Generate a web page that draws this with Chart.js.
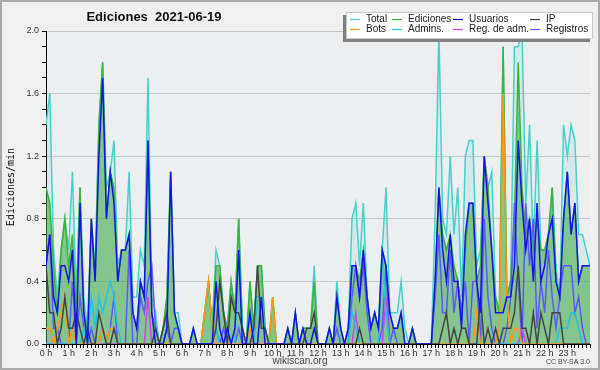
<!DOCTYPE html>
<html>
<head>
<meta charset="utf-8">
<script src="https://cdn.jsdelivr.net/npm/chart.js@4/dist/chart.umd.min.js"></script>
<style>
  html, body { margin: 0; padding: 0; background: #f0f0f0; }
  #wrap { width: 600px; height: 370px; position: relative; }
</style>
</head>
<body>
<div id="wrap"><canvas id="edChart" width="600" height="370"></canvas></div>
<script>
// edits per minute, one value per 10 minutes (00:00 .. 24:00)
const hours = ['0 h','1 h','2 h','3 h','4 h','5 h','6 h','7 h','8 h','9 h','10 h','11 h',
               '12 h','13 h','14 h','15 h','16 h','17 h','18 h','19 h','20 h','21 h','22 h','23 h'];
const yLabels = ['0.0','0.4','0.8','1.2','1.6','2.0'];

const total = [1.4,1.6,0.6,0.3,0.6,0.8,0.6,1.1,0.3,1.0,0.3,0.1,
  0.8,0.5,1.4,1.8,1.0,1.1,1.3,0.5,0.6,0.6,1.1,0.3,
  0.3,0.6,0.5,1.7,0.3,0.2,0,0.1,0.3,1.1,0.2,0.2,
  0,0,0,0.1,0,0,0.2,0.4,0.1,0.6,0.5,0.2,
  0.1,0.4,0.2,0.8,0.1,0,0.4,0.1,0.5,0.5,0.1,0,
  0.3,0,0,0,0.1,0,0.2,0,0.1,0.1,0.1,0.5,
  0,0,0,0.1,0,0.4,0.1,0,0.1,0.8,0.9,0.5,
  0.9,0.3,0.1,0.2,0.1,0.6,1.0,0.2,0.2,0.2,0.4,0.1,
  0,0.1,0,0,0,0,0,0.8,2.0,0.8,0.7,1.2,
  0.7,1.0,0.3,1.2,1.3,1.3,0.5,0.6,1.2,1.0,1.1,0.3,
  0.2,1.9,0.3,0.4,1.9,1.9,2.0,0.9,1.4,0.6,1.3,0.6,
  0.6,0.7,1.0,0.5,0.3,1.4,1.2,1.4,1.3,0.7,0.7,0.6,
  0.5];

const ediciones = [1.0,0.9,0.5,0.2,0.6,0.8,0.5,0.7,0.2,1.0,0.2,0.1,
  0.8,0.4,1.4,1.8,0.8,1.1,1.0,0.4,0.6,0.6,0.7,0.2,
  0.1,0.4,0.3,1.3,0.2,0.1,0,0.1,0.3,1.1,0.2,0.1,
  0,0,0,0.1,0,0,0.2,0.4,0.1,0.5,0.5,0.2,
  0.1,0.4,0.2,0.8,0.1,0,0.4,0.1,0.5,0.5,0.1,0,
  0.3,0,0,0,0.1,0,0.2,0,0.1,0.1,0.1,0.4,
  0,0,0,0.1,0,0.3,0.1,0,0.1,0.5,0.5,0.4,
  0.6,0.3,0.1,0.2,0.1,0.6,0.5,0.2,0.1,0.1,0.2,0,
  0,0.1,0,0,0,0,0,0.4,1.0,0.7,0.6,0.7,
  0.5,0.4,0.2,0.6,0.9,0.9,0.4,0.5,1.2,1.0,0.6,0.3,
  0.2,1.9,0.3,0.4,0.8,1.8,1.0,0.7,0.8,0.6,0.8,0.6,
  0.6,0.7,1.0,0.4,0.3,0.8,1.1,0.7,0.9,0.4,0.5,0.5,
  0.5];

const usuarios = [0.5,0.7,0.3,0.2,0.5,0.5,0.4,0.6,0,0.9,0.2,0,
  0.8,0.4,1.2,1.7,0.8,1.1,0.9,0.4,0.6,0.6,0.7,0.2,
  0.1,0.4,0.3,1.3,0.2,0,0,0,0.1,1.1,0.2,0.1,
  0,0,0,0.1,0,0,0,0,0,0.4,0.1,0,
  0.1,0,0.1,0.6,0,0,0.2,0,0,0.3,0,0,
  0,0,0,0,0.1,0,0.2,0,0.1,0,0,0.1,
  0,0,0,0.1,0,0.3,0.1,0,0.1,0.5,0.5,0.3,
  0.6,0.3,0.1,0.2,0.1,0.6,0.5,0.2,0.1,0.1,0.2,0,
  0,0.1,0,0,0,0,0,0.4,1.0,0.6,0.4,0.7,
  0.4,0.4,0.1,0.7,0.9,0.9,0.4,0.2,1.2,0.9,0.6,0.2,
  0.2,0.2,0.3,0.3,0.5,1.3,0.9,0.6,0.8,0.4,0.9,0.4,
  0.5,0.7,0.8,0.4,0.3,0.8,1.1,0.7,0.9,0.4,0.5,0.5,
  0.5];

const ip = [0.5,0.2,0.2,0,0.1,0.3,0.1,0.1,0.2,0.1,0,0.1,
  0,0,0.2,0.1,0,0,0.1,0,0,0,0,0,
  0,0,0,0,0,0.1,0,0.1,0.2,0,0,0,
  0,0,0,0,0,0,0,0,0,0.1,0.4,0.2,
  0,0.3,0.2,0.2,0.1,0,0,0.1,0.5,0.1,0.1,0,
  0,0,0,0,0,0,0,0,0,0.1,0.1,0.2,
  0,0,0,0,0,0,0,0,0,0,0,0.1,
  0,0,0,0,0,0,0,0,0,0,0,0,
  0,0,0,0,0,0,0,0,0,0.1,0.2,0,
  0.1,0,0.1,0.1,0,0,0,0.3,0,0.1,0,0.1,
  0,0.1,0.1,0.1,0.2,0.5,0.1,0.1,0,0.2,0,0.2,
  0.1,0,0.2,0.2,0.2,0,0,0,0,0,0,0,
  0];

const bots = [0.1,0.1,0,0.1,0.2,0.3,0,0.1,0,0,0,0,
  0,0,0,0.1,0,0.1,0.1,0,0,0,0,0,
  0,0,0,0,0,0,0,0,0,0,0,0,
  0,0,0,0,0,0,0.2,0.4,0.1,0,0,0,
  0,0,0,0,0,0,0.1,0,0,0,0,0,
  0.3,0,0,0,0,0,0,0,0,0,0,0,
  0,0,0,0,0,0,0,0,0,0,0,0,
  0,0,0,0,0,0,0,0,0,0,0,0,
  0,0,0,0,0,0,0,0,0,0,0,0,
  0,0,0,0,0,0,0.2,0,0,0,0,0,
  0.1,1.6,0.3,0,0.1,0.1,0,0,0,0,0,0,
  0,0,0,0,0,0,0,0,0,0,0,0,
  0];

const admins = [0,0,0,0,0,0,0,0,0,0,0.1,0,
  0.3,0.1,0.3,0.2,0.3,0.4,0.3,0.1,0,0,0,0,
  0,0,0,0,0,0,0,0,0,0,0,0,
  0,0,0,0,0,0,0,0,0,0.1,0,0,
  0.1,0,0,0.6,0.1,0,0.2,0,0.3,0.3,0.1,0,
  0,0,0,0,0,0,0,0,0,0,0,0,
  0,0,0,0,0,0,0,0,0,0.2,0.1,0,
  0,0,0,0,0,0.6,0.2,0,0,0,0,0,
  0,0,0,0,0,0,0,0,0,0,0,0,
  0,0,0,0,0,0,0,0,0,0,0,0,
  0,0,0,0,0,0,0,0,0,0,0,0,
  0,0,0,0,0.1,0.1,0.1,0.2,0.2,0.1,0,0,
  0];

const regAdm = [0,0,0,0,0,0,0,0,0,0,0,0,
  0,0,0,0,0,0,0,0,0,0,0,0,
  0,0,0,0.3,0,0,0,0,0,0,0,0,
  0,0,0,0,0,0,0,0,0,0,0,0,
  0,0,0,0,0,0,0,0,0,0,0,0,
  0,0,0,0,0,0,0,0,0,0,0,0,
  0,0,0,0,0,0,0,0,0,0,0.2,0,
  0,0,0,0,0,0,0.3,0,0,0,0,0,
  0,0,0,0,0,0,0,0,0,0,0,0,
  0,0,0,0,0,0,0,0,0,0,0,0,
  0,0,0,0,0,0,0.1,0,0,0,0,0,
  0,0,0,0,0,0,0,0,0,0,0,0,
  0];

const registros = [0.5,0.7,0.1,0.1,0,0,0,0.4,0,0.3,0.1,0,
  0.1,0,0,0.1,0,0.1,0.3,0,0,0,0.6,0,
  0,0.3,0.2,0.4,0.5,0.1,0,0,0.1,0,0.1,0.1,
  0,0,0,0,0,0,0,0,0,0.1,0,0.1,
  0,0,0,0.1,0,0,0,0,0,0,0,0,
  0,0,0,0,0,0,0,0,0,0,0,0,
  0,0,0,0,0,0.1,0,0,0,0.3,0.5,0.3,
  0.5,0.2,0,0,0,0.1,0.5,0,0.1,0,0,0,
  0,0,0,0,0,0,0,0.3,0.7,0.2,0.2,0.6,
  0.2,0.4,0.2,0.4,0,0.4,0.4,0,0.8,0.3,0.1,0,
  0,0,0.1,0.3,0.9,0.4,0,0.9,0.5,0.8,0.1,0.4,
  0.2,0.6,0.3,0.1,0.3,0.5,0.5,0.5,0.2,0.3,0.1,0,
  0];

const pts = arr => arr.map((v, i) => ({ x: i, y: v }));
const isQuarter = v => Math.abs(v / 0.4 - Math.round(v / 0.4)) < 1e-6;

function line(label, data, color, order, fill) {
  return {
    label: label,
    data: pts(data),
    borderColor: color,
    backgroundColor: fill || 'transparent',
    fill: fill ? 'origin' : false,
    borderWidth: 1.5,
    pointRadius: 0,
    tension: 0,
    order: order
  };
}

// frame, title, legend and footer texts
const decor = {
  id: 'decor',
  beforeDraw(chart) {
    const c = chart.ctx, a = chart.chartArea;
    c.save();
    c.fillStyle = '#f0f0f0';
    c.fillRect(0, 0, 600, 370);
    c.fillStyle = '#eceef0';
    c.fillRect(a.left, a.top, a.right - a.left, a.bottom - a.top);
    c.strokeStyle = '#a9a9a9';
    c.lineWidth = 2;
    c.strokeRect(1, 1, 598, 368);
    c.restore();
  },
  afterDraw(chart) {
    const c = chart.ctx;
    c.save();
    c.fillStyle = '#111';
    c.font = 'bold 13px "Liberation Sans", Arial, sans-serif';
    c.textAlign = 'center';
    c.textBaseline = 'alphabetic';
    c.fillText('Ediciones  2021-06-19', 154, 21);

    // y axis title
    c.save();
    c.translate(11, 187);
    c.rotate(-Math.PI / 2);
    c.font = '10px "DejaVu Sans Mono", monospace';
    c.textBaseline = 'middle';
    c.fillText('Ediciones/min', 0, 0);
    c.restore();

    // legend box
    c.fillStyle = '#808080';
    c.fillRect(343, 15, 247, 27);
    c.fillStyle = '#ffffff';
    c.fillRect(346, 12, 247, 27);
    c.strokeStyle = '#c8c8c8';
    c.lineWidth = 1;
    c.strokeRect(346.5, 12.5, 246, 26);
    const colX = [350, 392, 453, 530];
    const rowY = [19, 29];
    c.font = '10px "Liberation Sans", Arial, sans-serif';
    c.textAlign = 'left';
    c.textBaseline = 'middle';
    chart.data.datasets.forEach((ds, i) => {
      const x = colX[i % 4], y = rowY[Math.floor(i / 4)];
      c.strokeStyle = ds.borderColor;
      c.lineWidth = 1.2;
      c.beginPath();
      c.moveTo(x, y + 0.5);
      c.lineTo(x + 10, y + 0.5);
      c.stroke();
      c.fillStyle = '#222';
      c.fillText(ds.label, x + 16, y);
    });

    c.fillStyle = '#444';
    c.textAlign = 'center';
    c.font = '10px "Liberation Sans", Arial, sans-serif';
    c.fillText('wikiscan.org', 300, 361);
    c.textAlign = 'right';
    c.font = '7px "Liberation Sans", Arial, sans-serif';
    c.fillText('CC BY-SA 3.0', 590, 362);
    c.restore();
  }
};

const ctx = document.getElementById('edChart').getContext('2d');
new Chart(ctx, {
  type: 'line',
  data: {
    datasets: [
      line('Total', total, '#48d1c8', 9, 'rgba(72,209,200,0.13)'),
      line('Ediciones', ediciones, '#3cb43c', 8, 'rgba(50,160,50,0.5)'),
      line('Usuarios', usuarios, '#1414e6', 1),
      line('IP', ip, '#444444', 2),
      line('Bots', bots, '#ff9a10', 3),
      line('Admins.', admins, '#22c4e4', 4),
      line('Reg. de adm.', regAdm, '#cc44ee', 5),
      line('Registros', registros, '#5a5aff', 6)
    ]
  },
  options: {
    responsive: false,
    animation: false,
    layout: { padding: { left: 0, right: 10, top: 31, bottom: 0 } },
    plugins: { legend: { display: false }, tooltip: { enabled: false }, title: { display: false } },
    scales: {
      x: {
        type: 'linear',
        min: 0,
        max: 144,
        afterFit: s => { s.height = 26; },
        border: { color: '#000', width: 1 },
        grid: { drawOnChartArea: false, drawTicks: true, tickLength: 4, tickColor: '#000' },
        ticks: {
          stepSize: 1,
          autoSkip: false,
          maxRotation: 0,
          padding: 0,
          color: '#333',
          font: { family: '"Liberation Sans", Arial, sans-serif', size: 9 },
          callback: v => (v % 6 === 0 && v / 6 < hours.length) ? hours[v / 6] : ''
        }
      },
      y: {
        min: 0,
        max: 2,
        afterFit: s => { s.width = 46; },
        border: { color: '#000', width: 1 },
        grid: {
          color: c => (c.tick && c.tick.value > 0 && isQuarter(c.tick.value)) ? '#c8c8c8' : 'rgba(0,0,0,0)',
          tickColor: '#000',
          tickLength: 4,
          lineWidth: 1
        },
        ticks: {
          stepSize: 0.1,
          autoSkip: false,
          padding: 3,
          color: '#333',
          font: { family: '"Liberation Sans", Arial, sans-serif', size: 9 },
          callback: v => isQuarter(v) ? yLabels[Math.round(v / 0.4)] : ''
        }
      }
    }
  },
  plugins: [decor]
});
</script>
</body>
</html>
